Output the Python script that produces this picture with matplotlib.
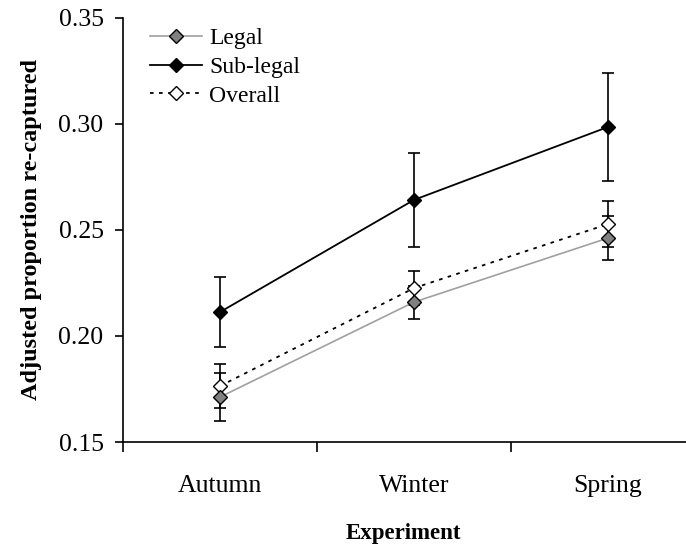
import numpy as np
import matplotlib
matplotlib.use("Agg")
import matplotlib.pyplot as plt

# data
seasons = ["Autumn", "Winter", "Spring"]
legal = [0.1712, 0.2160, 0.2462]
legal_err = [0.0113, 0.0078, 0.0102]
sublegal = [0.2113, 0.2642, 0.2986]
sublegal_err = [0.0167, 0.0222, 0.0255]
overall = [0.1764, 0.2226, 0.2528]
overall_err = [0.0104, 0.0080, 0.0108]
yticks = [0.15, 0.20, 0.25, 0.30, 0.35]

plt.rcParams['font.family'] = ['Liberation Serif', 'DejaVu Serif']

fig = plt.figure(figsize=(6.86, 5.45), dpi=100)
ax = fig.add_axes([123 / 686, 103 / 545, 582 / 686, 424 / 545])

x = np.arange(len(seasons))

# error bars first (all black)
for vals, errs in [(sublegal, sublegal_err), (overall, overall_err), (legal, legal_err)]:
    ax.errorbar(x, vals, yerr=errs, fmt='none', ecolor='black',
                elinewidth=1.2, capsize=4, capthick=1.2, zorder=2)

ax.plot(x, legal, color='#a0a0a0', lw=1.2, marker='D', ms=7.5,
        mfc='#808080', mec='black', mew=1.0, label='Legal', zorder=4)
ax.plot(x, sublegal, color='black', lw=1.3, marker='D', ms=7.5,
        mfc='black', mec='black', mew=1.0, label='Sub-legal', zorder=4)
ax.plot(x, overall, color='black', lw=1.3, ls=(0, (2, 3)), marker='D', ms=7.5,
        mfc='white', mec='black', mew=1.0, label='Overall', zorder=3)

ax.set_xlim(-0.5, 2.5)
ax.set_ylim(0.15, 0.35)
ax.set_yticks(yticks)
ax.set_yticklabels(["%.2f" % v for v in yticks])
ax.set_xticks(x)
ax.set_xticklabels(seasons)
ax.set_xticks([-0.5, 0.5, 1.5, 2.5], minor=True)

ax.spines['top'].set_visible(False)
ax.spines['right'].set_visible(False)
ax.spines['left'].set_linewidth(1.2)
ax.spines['bottom'].set_linewidth(1.2)
ax.tick_params(axis='y', direction='out', length=6, width=1.2, pad=8, labelsize=18.5)
ax.tick_params(axis='x', which='major', length=0, pad=24, labelsize=18.5)
ax.tick_params(axis='x', which='minor', direction='out', length=7, width=1.2)

ax.set_ylabel('Adjusted proportion re-captured', fontsize=17.5, fontweight='bold', labelpad=12)
ax.set_xlabel('Experiment', fontsize=16.5, fontweight='bold', labelpad=18)
ax.xaxis.set_label_coords(0.481, -0.19)

ax.legend(loc='upper left', bbox_to_anchor=(0.022, 1.01), frameon=False,
          fontsize=17, handlelength=2.2, handletextpad=0.3, labelspacing=0.3,
          borderaxespad=0.2)

fig.savefig('out.png', dpi=100)
